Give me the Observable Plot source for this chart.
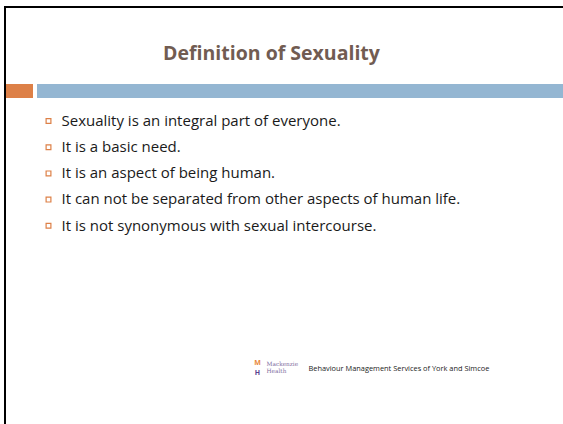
<!DOCTYPE html>
<html>
<head>
<meta charset="utf-8">
<script src="https://cdn.jsdelivr.net/npm/d3@7"></script>
<script src="https://cdn.jsdelivr.net/npm/@observablehq/plot@0.6"></script>
<style>
  html, body { margin: 0; padding: 0; background: #fff; }
  #slide { position: relative; width: 563px; height: 424px; overflow: hidden; }
  #frame { position: absolute; left: 4px; top: 6px; right: -10px; bottom: -10px;
           border-top: 2px solid #000; border-left: 2px solid #000; pointer-events: none; }
  #chart svg { display: block; }
</style>
</head>
<body>
<div id="slide"><div id="chart"></div><div id="frame"></div></div>
<script>
const titleText = "Definition of Sexuality";
const bullets = [
  "Sexuality is an integral part of everyone.",
  "It is a basic need.",
  "It is an aspect of being human.",
  "It can not be separated from other aspects of human life.",
  "It is not synonymous with sexual intercourse."
];
const footerText = "Behaviour Management Services of York and Simcoe";
const logoWords = ["Mackenzie", "Health"];
const accentBars = [
  {name: "orange", x1: 6, x2: 33, color: "#dd8047"},
  {name: "blue", x1: 37, x2: 563, color: "#94b6d2"}
];

const W = 563, H = 424;
const font = "'Open Sans', sans-serif";
const rows = bullets.map((t, i) => ({t, row: i, y: 120.5 + i * 26.2}));

const plot = Plot.plot({
  width: W, height: H, margin: 0,
  x: {domain: [0, W], range: [0, W], axis: null},
  y: {domain: [0, H], range: [0, H], axis: null},
  style: {fontFamily: font, background: "#fff"},
  marks: [
    Plot.rect(accentBars, {x1: "x1", x2: "x2", y1: 84, y2: 98, fill: "color"}),
    Plot.text([titleText], {x: 271, y: 53, text: d => d, fontSize: 19.5, fontWeight: "bold", fill: "#715c52", fontFamily: font}),
    Plot.dot(rows, {x: 48, y: "y", symbol: "square", r: 2.7, stroke: "#dd8047", strokeWidth: 1.2, fill: "#fff"}),
    Plot.text(rows, {x: 61, y: "y", text: "t", textAnchor: "start", fontSize: 15, fill: "#1a1a1a", fontFamily: font}),
    Plot.text(["M"], {x: 257, y: 362, text: d => d, fontSize: 7, fontWeight: "bold", fill: "#e8893a"}),
    Plot.text(["H"], {x: 257, y: 372, text: d => d, fontSize: 7, fontWeight: "bold", fill: "#5a3f8f"}),
    Plot.text(logoWords.map((w, i) => ({w, y: 364 + i * 7})), {x: 266, y: "y", text: "w", textAnchor: "start", fontSize: 5.8, fill: "#7f6f9f", fontFamily: "'DejaVu Serif', serif"}),
    Plot.text([footerText], {x: 308, y: 368, text: d => d, textAnchor: "start", fontSize: 7.4, fill: "#222", fontFamily: font})
  ]
});
document.getElementById("chart").appendChild(plot);
</script>
</body>
</html>
